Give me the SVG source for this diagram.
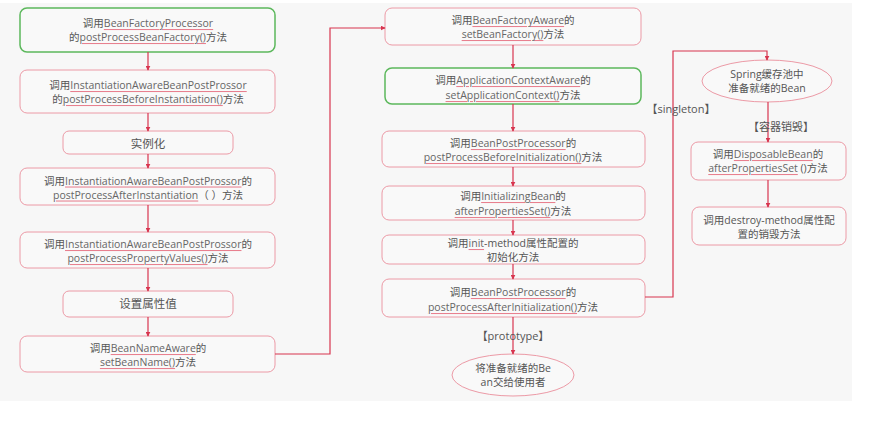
<svg xmlns="http://www.w3.org/2000/svg" width="876" height="446" viewBox="0 0 876 446">
<defs>
<marker id="ah" viewBox="0 0 8 8" refX="7" refY="4" markerWidth="5" markerHeight="5" orient="auto" markerUnits="userSpaceOnUse">
<path d="M0,0 L8,4 L0,8 z" fill="#d8354f"/>
</marker>
<style>
.bx{fill:#f9f9f9;stroke:#ec9aa6;stroke-width:1}
.gr{fill:#f9f9f9;stroke:#5cb85c;stroke-width:1.5}
.t{font-family:"Open Sans","Noto Sans CJK SC",sans-serif;font-size:10.5px;fill:#555;text-anchor:middle;dominant-baseline:central}
.big{font-size:11.5px}
.u{text-decoration:underline;fill:#e8808f}
.u tspan{fill:#666}
.c{fill:none;stroke:#d8354f;stroke-width:1.2}
.lb{font-family:"Open Sans","Noto Sans CJK SC",sans-serif;font-size:11px;fill:#555;text-anchor:middle;dominant-baseline:central}
</style>
</defs>
<rect x="0" y="3" width="852" height="398" fill="#f7f7f7"/>

<g id="n1"><rect class="gr" x="20" y="8" width="255" height="44" rx="7"/>
<text class="t" x="148" y="23">调用<tspan class="u"><tspan>BeanFactoryProcessor</tspan></tspan></text>
<text class="t" x="148" y="37">的<tspan class="u"><tspan>postProcessBeanFactory()</tspan></tspan>方法</text></g>

<g id="n2"><rect class="bx" x="20" y="70" width="255" height="43" rx="7"/>
<text class="t" x="148" y="85">调用<tspan class="u"><tspan>InstantiationAwareBeanPostProssor</tspan></tspan></text>
<text class="t" x="148" y="99">的<tspan class="u"><tspan>postProcessBeforeInstantiation()</tspan></tspan>方法</text></g>

<g id="n3"><rect class="bx" x="63" y="131" width="170" height="23" rx="6"/>
<text class="t big" x="148" y="143">实例化</text></g>

<g id="n4"><rect class="bx" x="20" y="168" width="255" height="37" rx="7"/>
<text class="t" x="148" y="180.5">调用<tspan class="u"><tspan>InstantiationAwareBeanPostProssor</tspan></tspan>的</text>
<text class="t" x="148" y="194.5"><tspan class="u"><tspan>postProcessAfterInstantiation</tspan></tspan>（ ）方法</text></g>

<g id="n5"><rect class="bx" x="20" y="232" width="255" height="36" rx="7"/>
<text class="t" x="148" y="244">调用<tspan class="u"><tspan>InstantiationAwareBeanPostProssor</tspan></tspan>的</text>
<text class="t" x="148" y="258"><tspan class="u"><tspan>postProcessPropertyValues()</tspan></tspan>方法</text></g>

<g id="n6"><rect class="bx" x="63" y="291" width="170" height="26" rx="6"/>
<text class="t big" x="148" y="303.5">设置属性值</text></g>

<g id="n7"><rect class="bx" x="20" y="336" width="255" height="36" rx="7"/>
<text class="t" x="148" y="348">调用<tspan class="u"><tspan>BeanNameAware</tspan></tspan>的</text>
<text class="t" x="148" y="362"><tspan class="u"><tspan>setBeanName()</tspan></tspan>方法</text></g>

<g id="n8"><rect class="bx" x="385" y="8" width="256" height="37" rx="7"/>
<text class="t" x="513" y="20">调用<tspan class="u"><tspan>BeanFactoryAware</tspan></tspan>的</text>
<text class="t" x="513" y="34"><tspan class="u"><tspan>setBeanFactory()</tspan></tspan>方法</text></g>

<g id="n9"><rect class="gr" x="385" y="68" width="256" height="36" rx="7"/>
<text class="t" x="513" y="80">调用<tspan class="u"><tspan>ApplicationContextAware</tspan></tspan>的</text>
<text class="t" x="513" y="95"><tspan class="u"><tspan>setApplicationContext()</tspan></tspan>方法</text></g>

<g id="n10"><rect class="bx" x="382" y="131" width="263" height="36" rx="7"/>
<text class="t" x="513" y="143">调用<tspan class="u"><tspan>BeanPostProcessor</tspan></tspan>的</text>
<text class="t" x="513" y="157"><tspan class="u"><tspan>postProcessBeforeInitialization()</tspan></tspan>方法</text></g>

<g id="n11"><rect class="bx" x="382" y="186" width="263" height="34" rx="7"/>
<text class="t" x="513" y="196">调用<tspan class="u"><tspan>InitializingBean</tspan></tspan>的</text>
<text class="t" x="513" y="211"><tspan class="u"><tspan>afterPropertiesSet()</tspan></tspan>方法</text></g>

<g id="n12"><rect class="bx" x="382" y="235" width="263" height="29" rx="7"/>
<text class="t" x="513" y="243">调用<tspan class="u"><tspan>init</tspan></tspan>-method属性配置的</text>
<text class="t" x="513" y="257">初始化方法</text></g>

<g id="n13"><rect class="bx" x="382" y="279" width="263" height="38" rx="7"/>
<text class="t" x="513" y="292">调用<tspan class="u"><tspan>BeanPostProcessor</tspan></tspan>的</text>
<text class="t" x="513" y="307"><tspan class="u"><tspan>postProcessAfterInitialization()</tspan></tspan>方法</text></g>

<g id="n14"><ellipse class="bx" cx="513" cy="375" rx="61" ry="21"/>
<text class="t" x="513" y="368">将准备就绪的Be</text>
<text class="t" x="513" y="382">an交给使用者</text></g>

<g id="n15"><ellipse class="bx" cx="767" cy="81" rx="65" ry="21"/>
<text class="t" x="767" y="74">Spring缓存池中</text>
<text class="t" x="767" y="88">准备就绪的Bean</text></g>

<g id="n16"><rect class="bx" x="691" y="142" width="155" height="38" rx="7"/>
<text class="t" x="768" y="154">调用<tspan class="u"><tspan>DisposableBean</tspan></tspan>的</text>
<text class="t" x="768" y="168"><tspan class="u"><tspan>afterPropertiesSet</tspan></tspan> ()方法</text></g>

<g id="n17"><rect class="bx" x="692" y="207" width="154" height="38" rx="7"/>
<text class="t" x="769" y="220">调用destroy-method属性配</text>
<text class="t" x="769" y="234">置的销毁方法</text></g>

<g id="connectors">
<line class="c" x1="148" y1="52" x2="148" y2="70" marker-end="url(#ah)"/>
<line class="c" x1="148" y1="113" x2="148" y2="131" marker-end="url(#ah)"/>
<line class="c" x1="148" y1="154" x2="148" y2="168" marker-end="url(#ah)"/>
<line class="c" x1="148" y1="205" x2="148" y2="232" marker-end="url(#ah)"/>
<line class="c" x1="148" y1="268" x2="148" y2="291" marker-end="url(#ah)"/>
<line class="c" x1="148" y1="317" x2="148" y2="336" marker-end="url(#ah)"/>
<polyline class="c" points="275,354 330,354 330,28 385,28" marker-end="url(#ah)"/>
<line class="c" x1="513" y1="45" x2="513" y2="68" marker-end="url(#ah)"/>
<line class="c" x1="513" y1="104" x2="513" y2="131" marker-end="url(#ah)"/>
<line class="c" x1="513" y1="167" x2="513" y2="186" marker-end="url(#ah)"/>
<line class="c" x1="513" y1="220" x2="513" y2="235" marker-end="url(#ah)"/>
<line class="c" x1="513" y1="264" x2="513" y2="279" marker-end="url(#ah)"/>
<line class="c" x1="513" y1="317" x2="513" y2="354" marker-end="url(#ah)"/>
<polyline class="c" points="645,297 673,297 673,51 767,51 767,60" marker-end="url(#ah)"/>
<line class="c" x1="768" y1="102" x2="768" y2="142" marker-end="url(#ah)"/>
<line class="c" x1="768" y1="180" x2="768" y2="207" marker-end="url(#ah)"/>
<text class="lb" x="513" y="335">【prototype】</text>
<text class="lb" x="681" y="108">【singleton】</text>
<text class="lb" x="781" y="126">【容器销毁】</text>
</g>
</svg>
